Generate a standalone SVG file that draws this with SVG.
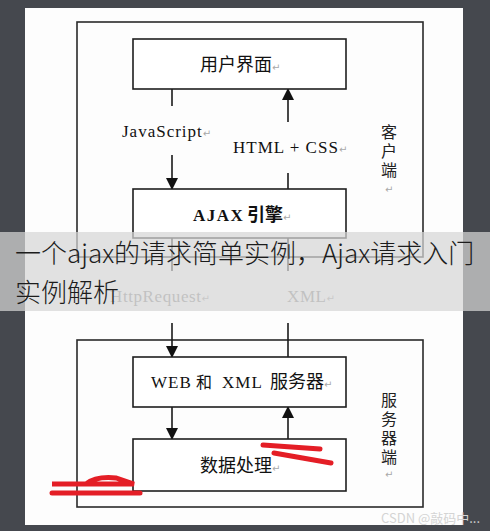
<svg xmlns="http://www.w3.org/2000/svg" width="490" height="531" viewBox="0 0 490 531">
<style>
.box{fill:#ffffff;stroke:#1e1e1e;stroke-width:1.6}
.frame{fill:none;stroke:#2a2a2a;stroke-width:1.6}
.ln{stroke:#1a1a1a;stroke-width:1.6;fill:none}
.cjk{font-family:"Noto Sans CJK SC","Noto Sans CJK JP",sans-serif;font-size:18px;fill:#111}
.ser{font-family:"Liberation Serif","Times New Roman",serif;font-size:17px;fill:#111;letter-spacing:1px}
.faint{font-family:"Liberation Serif","Times New Roman",serif;font-size:17px;fill:#8c8c8c;letter-spacing:0.6px}
.ret{font-family:"DejaVu Sans",sans-serif;font-size:10px;fill:#a8a8a8;letter-spacing:0}
.side{font-family:"Noto Sans CJK SC","Noto Sans CJK JP",sans-serif;font-size:16px;fill:#222;writing-mode:vertical-rl;letter-spacing:3px}
.red{stroke:#e41e26;stroke-width:5;stroke-linecap:round;fill:none}
.bn{font-family:"Noto Sans CJK SC","Noto Sans CJK JP",sans-serif;font-size:26px;font-weight:300;fill:#1c1c1c}
</style>
<defs>
<marker id="ah" markerUnits="userSpaceOnUse" markerWidth="12" markerHeight="14" refX="11" refY="6" orient="auto">
<path d="M0,0 L12,6 L0,12 Z" fill="#111"/>
</marker>
</defs>
<rect x="0" y="0" width="490" height="531" fill="#45484e"/>
<rect x="25" y="8" width="438" height="517" fill="#fdfdfd"/>

<g id="client-frame">
<rect class="frame" x="77" y="22" width="346" height="235"/>
<text class="side" x="389" y="124">客户端</text>
<text class="ret" x="385" y="193">↵</text>
</g>
<g id="server-frame">
<rect class="frame" x="77" y="340" width="346" height="167"/>
<text class="side" x="389" y="392">服务器端</text>
<text class="ret" x="385" y="478">↵</text>
</g>

<g id="connectors">
<line class="ln" x1="172" y1="89" x2="172" y2="106"/>
<line class="ln" x1="172" y1="155" x2="172" y2="189" marker-end="url(#ah)"/>
<line class="ln" x1="288" y1="122" x2="288" y2="89" marker-end="url(#ah)"/>
<line class="ln" x1="288" y1="189" x2="288" y2="173"/>
<line class="ln" x1="172" y1="238" x2="172" y2="271"/>
<line class="ln" x1="172" y1="323" x2="172" y2="357" marker-end="url(#ah)"/>
<line class="ln" x1="288" y1="357" x2="288" y2="323"/>
<line class="ln" x1="288" y1="271" x2="288" y2="238"/>
<line class="ln" x1="172" y1="407" x2="172" y2="439" marker-end="url(#ah)"/>
<line class="ln" x1="288" y1="439" x2="288" y2="407" marker-end="url(#ah)"/>
<text class="ser" x="122" y="137">JavaScript<tspan class="ret">↵</tspan></text>
<text class="ser" x="233" y="153">HTML + CSS<tspan class="ret">↵</tspan></text>
<text class="faint" x="110" y="302">HttpRequest<tspan class="ret">↵</tspan></text>
<text class="faint" x="287" y="302">XML<tspan class="ret">↵</tspan></text>
</g>

<g id="ui">
<rect class="box" x="133" y="39" width="213" height="50"/>
<text class="cjk" x="200" y="71">用户界面<tspan class="ret">↵</tspan></text>
</g>
<g id="ajax">
<rect class="box" x="133" y="189" width="213" height="49"/>
<text class="ser" x="193" y="221" font-weight="bold" style="letter-spacing:1.5px">AJAX</text>
<text class="cjk" x="247" y="221" font-weight="bold">引擎<tspan class="ret" font-weight="normal">↵</tspan></text>
</g>
<g id="web">
<rect class="box" x="133" y="357" width="213" height="50"/>
<text class="ser" x="151" y="388">WEB</text>
<text class="cjk" x="196" y="388" style="font-size:16px">和</text>
<text class="ser" x="222" y="388">XML</text>
<text class="cjk" x="270" y="388">服务器<tspan class="ret">↵</tspan></text>
</g>
<g id="data">
<rect class="box" x="133" y="439" width="213" height="52"/>
<text class="cjk" x="200" y="472">数据处理<tspan class="ret">↵</tspan></text>
</g>

<g id="redacted">
<path class="red" d="M52,484 L86,484 Q96,476 116,478 L134,484 Z" fill="#e41e26"/>
<line class="red" x1="52" y1="493" x2="140" y2="493"/>
<line class="red" x1="263" y1="445" x2="320" y2="449"/>
<line class="red" x1="274" y1="453" x2="331" y2="463"/>
</g>

<g id="banner">
<rect x="0" y="232" width="490" height="79" fill="#d6d6d6" opacity="0.72"/>
<text class="bn" x="15" y="263">一个ajax的请求简单实例，Ajax请求入门</text>
<text class="bn" x="15" y="302">实例解析</text>
</g>
<text x="381" y="523" font-family="'Noto Sans CJK SC','Liberation Sans',sans-serif" font-size="13" fill="#d4d4d4">CSDN @敲码中...</text>
</svg>
